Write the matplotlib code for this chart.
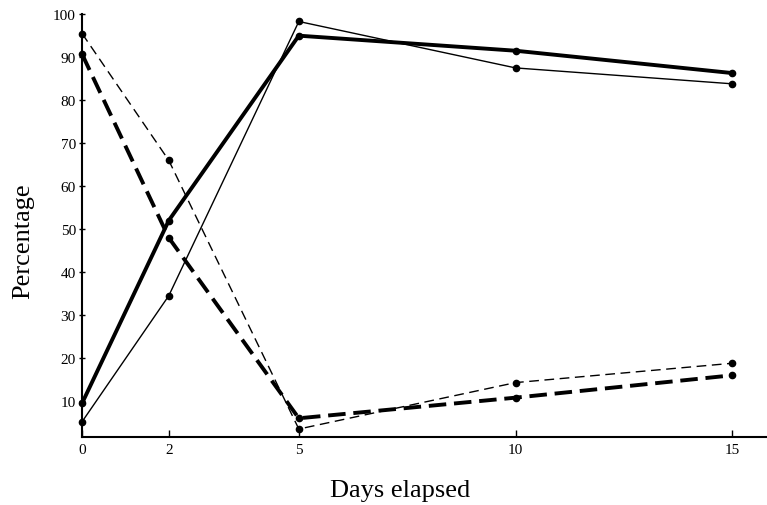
import matplotlib.pyplot as plt

plt.rcParams['font.family'] = ['Liberation Serif', 'DejaVu Serif']

days = [0, 2, 5, 10, 15]
thick_solid = [9.5, 52, 95, 91.5, 86.3]
thin_solid = [5.2, 34.5, 98.3, 87.5, 83.8]
thick_dashed = [90.7, 48, 6, 10.8, 16]
thin_dashed = [95.5, 66, 3.5, 14.3, 18.8]

fig = plt.figure(figsize=(7.67, 5.06), dpi=100)
ax = fig.add_axes([0.107, 0.134, 0.893, 0.836])

ax.plot(days, thick_solid, color='black', lw=2.8, marker='o', ms=4.5, clip_on=False)
ax.plot(days, thin_solid, color='black', lw=1.0, marker='o', ms=4.5, clip_on=False)
ax.plot(days, thick_dashed, color='black', lw=2.8, ls=(0, (4.5, 2)), marker='o', ms=4.5, clip_on=False)
ax.plot(days, thin_dashed, color='black', lw=1.0, ls=(0, (7, 4)), marker='o', ms=4.5, clip_on=False)

ax.set_xlim(0, 15.8)
ax.set_ylim(1.6, 100)
ax.set_xticks(days)
ax.set_yticks(range(10, 101, 10))

ax.spines['top'].set_visible(False)
ax.spines['right'].set_visible(False)
ax.spines['left'].set_linewidth(1.5)
ax.spines['bottom'].set_linewidth(1.5)
ax.tick_params(axis='x', direction='in', length=5, width=1, labelsize=11, pad=4)
ax.tick_params(axis='y', direction='inout', length=5, width=1, labelsize=11, pad=2)

ax.set_xlabel('Days elapsed', fontsize=19)
ax.xaxis.set_label_coords(0.464, -0.1)
ax.set_ylabel('Percentage', fontsize=19)
ax.yaxis.set_label_coords(-0.07, 0.466)

fig.savefig('out.png', dpi=100)
